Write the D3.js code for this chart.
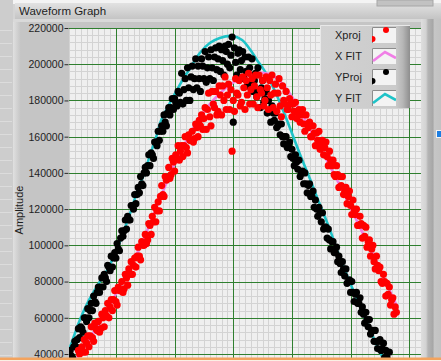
<!DOCTYPE html>
<html>
<head>
<meta charset="utf-8">
<script src="https://cdn.jsdelivr.net/npm/d3@7"></script>
<style>
  html, body { margin: 0; padding: 0; background: #d4d4d4; overflow: hidden; }
  svg { display: block; font-family: "Liberation Sans", Arial, sans-serif; }
</style>
</head>
<body>
<svg id="chart" width="441" height="361"></svg>
<script>
// ── Data (amplitudes in thousands) ──────────────────────────────────────────
const yTicks = [40000, 60000, 80000, 100000, 120000, 140000, 160000, 180000, 200000, 220000];
const xMajorTicks = [0, 100, 200, 300, 400, 500];

// waveform sampling: x0 and dx of each projection
const yprojX0 = -82, xprojX0 = -66, sampleDx = 2;

const yprojK = [
  38, 34, 42, 39, 38, 44, 47, 44, 48, 54,
  49, 55, 54, 52, 60, 60, 58, 65, 60, 64,
  68, 64, 72, 69, 68, 74, 77, 74, 77, 82,
  77, 84, 82, 80, 89, 88, 86, 94, 88, 93,
  96, 93, 101, 98, 97, 104, 108, 105, 108, 114,
  109, 116, 114, 114, 122, 122, 120, 128, 123, 128,
  132, 129, 138, 134, 133, 140, 143, 140, 144, 150,
  144, 151, 150, 148, 157, 157, 155, 163, 158, 163,
  166, 163, 172, 168, 166, 173, 176, 172, 176, 181,
  175, 181, 179, 177, 185, 184, 179, 195, 178, 186,
  192, 180, 198, 187, 180, 193, 199, 186, 192, 203,
  187, 199, 192, 185, 203, 199, 192, 207, 190, 198,
  204, 192, 208, 198, 191, 204, 209, 197, 203, 210,
  196, 208, 202, 194, 210, 207, 200, 211, 198, 205,
  215, 168, 209, 201, 194, 206, 208, 197, 202, 207,
  192, 204, 196, 188, 204, 198, 190, 203, 185, 191,
  195, 182, 198, 185, 176, 187, 191, 179, 181, 185,
  173, 180, 174, 168, 177, 173, 169, 173, 165, 166,
  167, 161, 167, 160, 156, 160, 160, 154, 155, 157,
  149, 153, 148, 144, 150, 146, 142, 147, 138, 140,
  141, 134, 140, 134, 129, 133, 134, 127, 127, 130,
  121, 125, 120, 116, 121, 118, 113, 118, 109, 110,
  110, 104, 109, 103, 98, 102, 102, 96, 96, 99,
  91, 94, 90, 85, 91, 87, 83, 87, 79, 80,
  81, 74, 80, 74, 69, 73, 74, 68, 68, 71,
  63, 66, 62, 57, 63, 59, 55, 59, 51, 53,
  53, 47, 53, 47, 43, 47, 48, 42, 43, 46,
  38, 42, 38, 35, 41
];

const xprojK = [
  34, 42, 40, 35, 44, 41, 48, 41, 46, 50,
  44, 50, 55, 49, 47, 57, 54, 53, 58, 52,
  54, 62, 60, 55, 64, 61, 68, 60, 66, 70,
  64, 70, 75, 69, 67, 77, 75, 75, 80, 74,
  76, 84, 82, 78, 87, 84, 91, 84, 89, 93,
  88, 94, 99, 94, 92, 102, 100, 100, 106, 101,
  103, 112, 111, 106, 116, 113, 121, 113, 119, 124,
  119, 127, 133, 128, 127, 138, 136, 137, 143, 137,
  139, 148, 146, 141, 150, 148, 155, 147, 152, 155,
  149, 155, 160, 154, 151, 161, 158, 158, 163, 157,
  159, 167, 165, 160, 169, 166, 172, 164, 170, 176,
  164, 175, 184, 171, 166, 185, 178, 176, 185, 172,
  174, 188, 183, 172, 188, 180, 193, 175, 183, 189,
  175, 186, 152, 180, 174, 192, 184, 183, 191, 177,
  179, 193, 187, 175, 191, 183, 195, 178, 186, 192,
  178, 188, 194, 182, 176, 194, 186, 184, 191, 177,
  180, 193, 187, 175, 191, 183, 194, 176, 184, 189,
  174, 184, 192, 177, 171, 188, 180, 178, 185, 175,
  175, 181, 178, 171, 178, 174, 179, 170, 173, 175,
  168, 172, 175, 167, 163, 172, 167, 165, 168, 160,
  160, 166, 162, 155, 162, 158, 163, 153, 156, 158,
  150, 154, 157, 149, 144, 152, 147, 144, 147, 139,
  138, 144, 139, 132, 138, 133, 138, 128, 130, 132,
  123, 127, 130, 122, 117, 125, 120, 117, 120, 111,
  111, 116, 112, 104, 111, 105, 110, 99, 102, 103,
  94, 98, 100, 91, 87, 94, 89, 86, 88, 80,
  79, 84, 80, 72, 79, 73, 77, 67, 70, 71,
  62, 66, 63
];

// fitted curves as [x, amplitude in thousands]
const yFit = [
  [-85, 36.6], [-82, 40], [-71, 50.4], [-61, 59.2], [-46, 69.7], [-29, 79.1],
  [-15, 86.3], [4, 99.6], [14, 108.4], [26, 119.4], [38, 131.6], [48, 139.3],
  [58, 149.8], [68, 159.2], [77, 169], [87, 175.5], [101, 184], [114, 191.5],
  [126, 197.5], [143, 206.2], [160, 211.7], [177, 214.5], [198, 215.6],
  [215, 213.4], [229, 208], [240, 202.5], [252, 197], [263, 190.5], [274, 183],
  [285, 174.5], [297, 164.5], [314, 150], [331, 136.5], [344, 125.5],
  [365, 108.4], [382, 93], [404, 75.5], [426, 58.7], [445, 44.5], [455, 38]
];
const xFit = [
  [-68, 37], [-40, 51], [-15, 64.5], [10, 79], [30, 91.5], [46, 102.5],
  [61, 114.5], [78, 128], [96, 142], [118, 156.5], [140, 169], [164, 179.5],
  [186, 186.5], [211, 192], [232, 194.6], [249, 195.2], [266, 193.8],
  [283, 189.5], [300, 182], [314, 174], [331, 164], [343, 157], [356, 149],
  [370, 140.5], [387, 129.5], [407, 116], [433, 98.5], [450, 87], [464, 77],
  [476, 68.5], [480, 65.5]
];

const legendLabels = ["Xproj", "X FIT", "YProj", "Y FIT"];

// ── Layout ──────────────────────────────────────────────────────────────────
const W = 441, H = 361;
const plot = { left: 69, top: 28, right: 421, bottom: 358 };

const C = {
  red: "#ff0000",
  black: "#000000",
  pink: "#f07ee6",
  cyan: "#1ec3c8",
  major: "#2f7f2f",
  minor: "#d3d3d3",
  plotBg: "#efefef",
};

const x = d3.scaleLinear().domain([-80, 520]).range([plot.left, plot.right]);
const y = d3.scaleLinear().domain([40000, 220000]).range([354, plot.top]);

const svg = d3.select("#chart");
const defs = svg.append("defs");
const crisp = (v) => Math.round(v) + 0.5;

// ── Frame / panel chrome ────────────────────────────────────────────────────
const vGrad = defs.append("linearGradient").attr("id", "titleGrad")
  .attr("x1", 0).attr("y1", 0).attr("x2", 0).attr("y2", 1);
vGrad.append("stop").attr("offset", 0).attr("stop-color", "#e2e2e2");
vGrad.append("stop").attr("offset", 1).attr("stop-color", "#c4c4c4");

const rGrad = defs.append("linearGradient").attr("id", "rightGrad");
[["0", "#dedede"], ["0.25", "#d2d2d2"], ["0.35", "#b4b4b4"], ["0.6", "#a6a6a6"],
 ["0.66", "#c6c6c6"], ["1", "#c2c2c2"]].forEach(([o, c]) =>
  rGrad.append("stop").attr("offset", o).attr("stop-color", c));

const lGrad = defs.append("linearGradient").attr("id", "leftGrad");
lGrad.append("stop").attr("offset", 0).attr("stop-color", "#e0e0e0");
lGrad.append("stop").attr("offset", 1).attr("stop-color", "#c4c4c4");

svg.append("rect").attr("width", W).attr("height", H).attr("fill", "#d4d4d4");
svg.append("rect").attr("width", W).attr("height", 4).attr("fill", "#f4f4f4");
svg.append("rect").attr("x", 0).attr("y", 0).attr("width", 13).attr("height", H)
  .attr("fill", "#cdcdcd");
svg.append("g").selectAll("line").data(d3.range(30, 357, 13)).join("line")
  .attr("x1", 0).attr("x2", 12).attr("y1", (d) => crisp(d)).attr("y2", (d) => crisp(d))
  .attr("stroke", "#dcdcdc");

// title bar
svg.append("rect").attr("x", 15).attr("y", 3).attr("width", W - 15).attr("height", 16)
  .attr("fill", "url(#titleGrad)");
svg.append("rect").attr("x", 377).attr("y", 0).attr("width", 56).attr("height", 6)
  .attr("fill", "#c2c2c2").attr("stroke", "#a6a6a6");
svg.append("text").attr("x", 19).attr("y", 15).attr("font-size", 11.5)
  .attr("fill", "#1e1e1e").text("Waveform Graph");

// graph frame
svg.append("rect").attr("x", 13).attr("y", 19).attr("width", W - 13).attr("height", plot.bottom - 19)
  .attr("fill", "#c5c5c5");
svg.append("rect").attr("x", 13).attr("y", 19).attr("width", 8).attr("height", plot.bottom - 19)
  .attr("fill", "url(#leftGrad)");
svg.append("rect").attr("x", 13).attr("y", 19).attr("width", W - 13).attr("height", 3)
  .attr("fill", "#d9d9d9");
svg.append("rect").attr("x", plot.right).attr("y", 19).attr("width", W - plot.right)
  .attr("height", plot.bottom - 19).attr("fill", "url(#rightGrad)");
svg.append("rect").attr("x", 436.5).attr("y", 130.5).attr("width", 6).attr("height", 7)
  .attr("fill", "#1c7ee2").attr("stroke", "#f4f4f4");

// ── Plot area ───────────────────────────────────────────────────────────────
defs.append("clipPath").attr("id", "plotClip").append("rect")
  .attr("x", plot.left).attr("y", plot.top)
  .attr("width", plot.right - plot.left).attr("height", plot.bottom - plot.top);

const g = svg.append("g").attr("clip-path", "url(#plotClip)");
g.append("rect").attr("x", plot.left).attr("y", plot.top)
  .attr("width", plot.right - plot.left).attr("height", plot.bottom - plot.top)
  .attr("fill", C.plotBg);

// minor grid
g.append("g").selectAll("line").data(d3.range(-80, 521, 10)).join("line")
  .attr("x1", (d) => crisp(x(d))).attr("x2", (d) => crisp(x(d)))
  .attr("y1", plot.top).attr("y2", plot.bottom)
  .attr("stroke", C.minor);
g.append("g").selectAll("line").data(d3.range(36000, 220001, 4000)).join("line")
  .attr("y1", (d) => crisp(y(d))).attr("y2", (d) => crisp(y(d)))
  .attr("x1", plot.left).attr("x2", plot.right)
  .attr("stroke", C.minor);

// major grid
g.append("g").selectAll("line").data(xMajorTicks).join("line")
  .attr("x1", (d) => crisp(x(d))).attr("x2", (d) => crisp(x(d)))
  .attr("y1", plot.top).attr("y2", plot.bottom)
  .attr("stroke", C.major);
g.append("g").selectAll("line").data(yTicks).join("line")
  .attr("y1", (d) => crisp(y(d))).attr("y2", (d) => crisp(y(d)))
  .attr("x1", plot.left).attr("x2", plot.right)
  .attr("stroke", C.major);

// ── Series ──────────────────────────────────────────────────────────────────
const fitLine = d3.line()
  .x((d) => x(d[0]))
  .y((d) => y(d[1] * 1000))
  .curve(d3.curveCatmullRom);

g.append("path").datum(yFit).attr("d", fitLine)
  .attr("fill", "none").attr("stroke", C.cyan).attr("stroke-width", 2.6);
g.append("path").datum(xFit).attr("d", fitLine)
  .attr("fill", "none").attr("stroke", C.pink).attr("stroke-width", 2.6);

const toPoints = (vals, x0) => vals.map((v, i) => [x0 + i * sampleDx, v * 1000]);

g.append("g").selectAll("circle").data(toPoints(yprojK, yprojX0)).join("circle")
  .attr("cx", (d) => x(d[0])).attr("cy", (d) => y(d[1])).attr("r", 3.6)
  .attr("fill", C.black);
g.append("g").selectAll("circle").data(toPoints(xprojK, xprojX0)).join("circle")
  .attr("cx", (d) => x(d[0])).attr("cy", (d) => y(d[1])).attr("r", 3.6)
  .attr("fill", C.red);

// ── Y axis ──────────────────────────────────────────────────────────────────
const yAxis = svg.append("g")
  .attr("transform", `translate(${plot.left - 0.5},0)`)
  .call(d3.axisLeft(y).tickValues(yTicks).tickSize(4).tickPadding(1)
    .tickFormat(d3.format("d")));
yAxis.select(".domain").remove();
yAxis.selectAll(".tick line").attr("stroke", "#2a2a2a");
yAxis.selectAll(".tick text")
  .attr("font-family", "Liberation Sans, Arial, sans-serif")
  .attr("font-size", 10.5).attr("fill", "#1e1e1e");

svg.append("text")
  .attr("transform", "translate(23,210) rotate(-90)")
  .attr("text-anchor", "middle").attr("font-size", 11).attr("fill", "#1e1e1e")
  .text("Amplitude");

// ── Legend ──────────────────────────────────────────────────────────────────
const lgGrad = defs.append("linearGradient").attr("id", "legendGrad");
[["0", "#d2d2d2"], ["0.84", "#cbcbcb"], ["0.92", "#b6b6b6"], ["1", "#8e8e8e"]]
  .forEach(([o, c]) => lgGrad.append("stop").attr("offset", o).attr("stop-color", c));

const legend = svg.append("g").attr("transform", "translate(320,25)");
legend.append("rect").attr("width", 90).attr("height", 83).attr("fill", "url(#legendGrad)");
legend.append("path").attr("d", "M0.5,83 V0.5 H90").attr("fill", "none").attr("stroke", "#e8e8e8");

const rows = legend.selectAll("g.row").data(legendLabels).join("g")
  .attr("class", "row")
  .attr("transform", (d, i) => `translate(0,${2 + i * 21})`);

rows.append("text").attr("x", 15).attr("y", 11.5).attr("font-size", 11)
  .attr("fill", "#1e1e1e").text((d) => d);

rows.each(function (d, i) {
  const row = d3.select(this);
  const clipId = `sw${i}`;
  defs.append("clipPath").attr("id", clipId).append("rect")
    .attr("x", 372).attr("y", 27 + i * 21).attr("width", 24).attr("height", 16);
  const sw = row.append("g").attr("transform", "translate(52,0)");
  sw.append("rect").attr("width", 24).attr("height", 16).attr("fill", "#f3f3f3");
  sw.append("path").attr("d", "M0.5,16 V0.5 H24").attr("fill", "none").attr("stroke", "#8c8c8c");
  const inner = svg.append("g").attr("clip-path", `url(#${clipId})`);
  if (i === 0 || i === 2) {
    const col = i === 0 ? C.red : C.black;
    inner.append("circle").attr("cx", 386).attr("cy", 30 + i * 21).attr("r", 3).attr("fill", col);
    inner.append("circle").attr("cx", 372.5).attr("cy", 39 + i * 21).attr("r", 3).attr("fill", col);
  } else {
    const col = i === 1 ? C.pink : C.cyan;
    const y0 = 27 + i * 21;
    inner.append("path")
      .attr("d", `M373,${y0 + 13} L385,${y0 + 4} L396,${y0 + 10}`)
      .attr("fill", "none").attr("stroke", col).attr("stroke-width", 2.6);
  }
});

// ── Bottom edge ─────────────────────────────────────────────────────────────
svg.append("rect").attr("x", 0).attr("y", 357.5).attr("width", W).attr("height", 2.5)
  .attr("fill", "#f3a35e");
svg.append("rect").attr("x", 0).attr("y", 360).attr("width", W).attr("height", 1)
  .attr("fill", "#fbefe4");
</script>
</body>
</html>
